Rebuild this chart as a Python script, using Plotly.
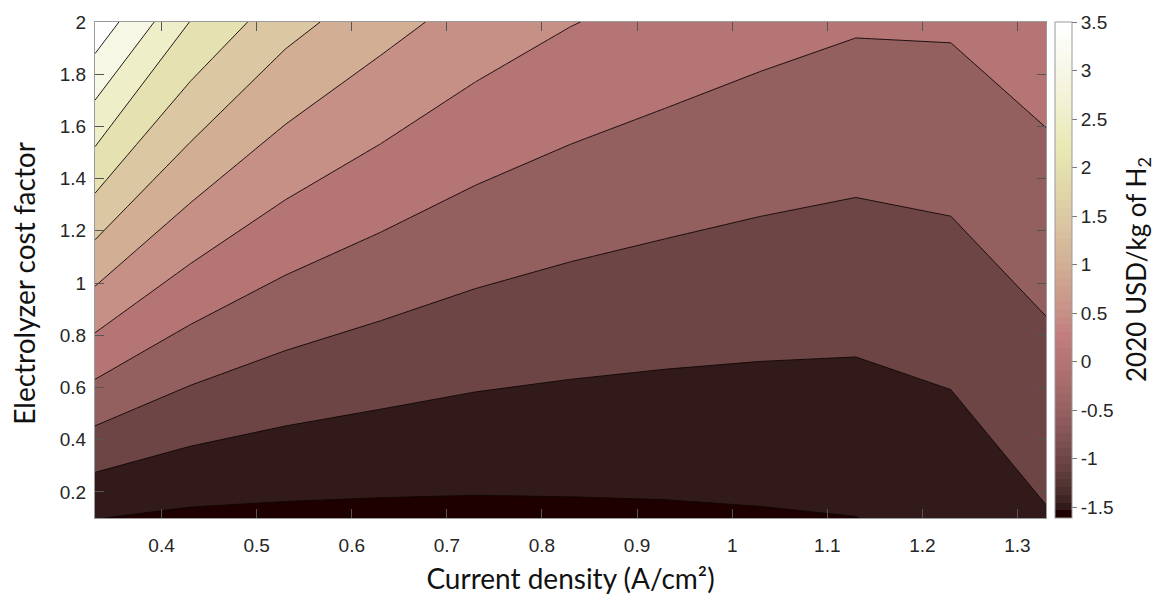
import math
import plotly.graph_objects as go

# ---------------- data ----------------
current_density = [0.33, 0.43, 0.53, 0.63, 0.73, 0.83, 0.93, 1.03, 1.13, 1.23, 1.33]
cost_factor = [0.1, 2.0]
lcoh_at_factor_0_1 = [-1.49, -1.59, -1.61, -1.615, -1.61, -1.59, -1.57, -1.54, -1.505, -1.37, -1.035]
lcoh_at_factor_2_0 = [3.84, 2.49, 1.68, 1.19, 0.79, 0.52, 0.33, 0.17, 0.05, 0.06, 0.28]

contour_levels = [-1.5, -1.0, -0.5, 0.0, 0.5, 1.0, 1.5, 2.0, 2.5, 3.0, 3.5]
x_ticks = [0.4, 0.5, 0.6, 0.7, 0.8, 0.9, 1.0, 1.1, 1.2, 1.3]
y_ticks = [0.2, 0.4, 0.6, 0.8, 1.0, 1.2, 1.4, 1.6, 1.8, 2.0]
cbar_ticks = [-1.5, -1, -0.5, 0, 0.5, 1, 1.5, 2, 2.5, 3, 3.5]
cbar_labels = ["-1.5", "-1", "-0.5", "0", "0.5", "1", "1.5", "2", "2.5", "3", "3.5"]
color_limits = [-1.61, 3.5]

z_grid = [lcoh_at_factor_0_1, lcoh_at_factor_2_0]

# ---------------- MATLAB "pink" colormap (64 entries) ----------------
M = 64
N = 24


def pink_rgb(i):
    g = i / (M - 1)
    hr = min(1.0, (i + 1) / N)
    hg = min(1.0, max(0.0, (i + 1 - N) / N))
    hb = max(0.0, (i + 1 - 2 * N) / (M - 2 * N))
    r = math.sqrt((2 * g + hr) / 3)
    gg = math.sqrt((2 * g + hg) / 3)
    b = math.sqrt((2 * g + hb) / 3)
    return "rgb(%d,%d,%d)" % (round(r * 255), round(gg * 255), round(b * 255))


def color_of_value(v):
    lo, hi = color_limits
    t = (v - lo) / (hi - lo)
    i = int(math.floor(t * M))
    i = max(0, min(M - 1, i))
    return pink_rgb(i)


# band colours: region below first level -> lowest colour; each band -> colour of its lower level
band_colors = [pink_rgb(0)] + [color_of_value(L) for L in contour_levels]
nb = len(band_colors) - 1
contour_scale = [[k / nb, c] for k, c in enumerate(band_colors)]

# stepped colour bar like MATLAB's 64-entry colormap
cbar_scale = []
for i in range(M):
    c = pink_rgb(i)
    cbar_scale.append([i / M, c])
    cbar_scale.append([(i + 1) / M, c])

step = contour_levels[1] - contour_levels[0]

fig = go.Figure()
fig.add_trace(go.Contour(
    x=current_density,
    y=cost_factor,
    z=z_grid,
    autocontour=False,
    contours=dict(start=contour_levels[0], end=contour_levels[-1], size=step,
                  coloring="fill", showlines=True),
    colorscale=contour_scale,
    line=dict(color="rgba(15,5,5,0.9)", width=1.0, smoothing=0),
    showscale=False,
    hoverinfo="skip",
))

tick_font = dict(family="Liberation Sans, Arial, sans-serif", size=19, color="#262626")
title_font = dict(family="Lato, 'Open Sans', sans-serif", size=28, color="#111111")
cbar_title_font = dict(family="Lato, 'Open Sans', sans-serif", size=26, color="#111111")

# invisible trace that carries the continuous colour bar
fig.add_trace(go.Scatter(
    x=[None], y=[None], mode="markers",
    marker=dict(color=[0], colorscale=cbar_scale, cmin=color_limits[0], cmax=color_limits[1],
                showscale=True,
                colorbar=dict(
                    x=1.0095, xanchor="left", xpad=0,
                    y=0.5, yanchor="middle", ypad=0,
                    len=1.0, lenmode="fraction",
                    thickness=17,
                    outlinewidth=1, outlinecolor="#9a9a9a",
                    tickvals=cbar_ticks, ticktext=cbar_labels,
                    ticks="outside", ticklen=5, tickcolor="#777777",
                    tickfont=tick_font,
                )),
    showlegend=False, hoverinfo="skip",
))

fig.update_xaxes(
    range=[current_density[0], current_density[-1]],
    tickvals=x_ticks, ticktext=[("%g" % v) for v in x_ticks],
    ticks="inside", ticklen=9, tickcolor="#555555", tickwidth=1,
    ticklabelstandoff=10,
    showline=True, linecolor="#9a9a9a", linewidth=1, mirror="ticks",
    showgrid=False, zeroline=False,
    tickfont=tick_font,
    title=dict(text="Current density (A/cm²)", font=title_font, standoff=14),
)
fig.update_yaxes(
    range=[cost_factor[0], cost_factor[-1]],
    tickvals=y_ticks, ticktext=[("%g" % v) for v in y_ticks],
    ticks="inside", ticklen=9, tickcolor="#555555", tickwidth=1,
    ticklabelstandoff=4,
    showline=True, linecolor="#9a9a9a", linewidth=1, mirror="ticks",
    showgrid=False, zeroline=False,
    tickfont=tick_font,
)

# y-axis title (placed slightly below the plot's centre, as in the reference)
fig.add_annotation(
    text="Electrolyzer cost factor", textangle=-90,
    xref="paper", yref="paper", x=-0.074, y=0.4735,
    xanchor="center", yanchor="middle", showarrow=False,
    font=title_font,
)

fig.add_annotation(
    text="2020 USD/kg of H<sub>2</sub>", textangle=-90,
    xref="paper", yref="paper", x=1.0957, y=0.5,
    xanchor="center", yanchor="middle", showarrow=False,
    font=cbar_title_font,
)

fig.update_layout(
    width=1173, height=604,
    margin=dict(l=95, r=127, t=19, b=86),
    paper_bgcolor="white", plot_bgcolor="white",
    showlegend=False,
)

fig.write_html("out.html")
